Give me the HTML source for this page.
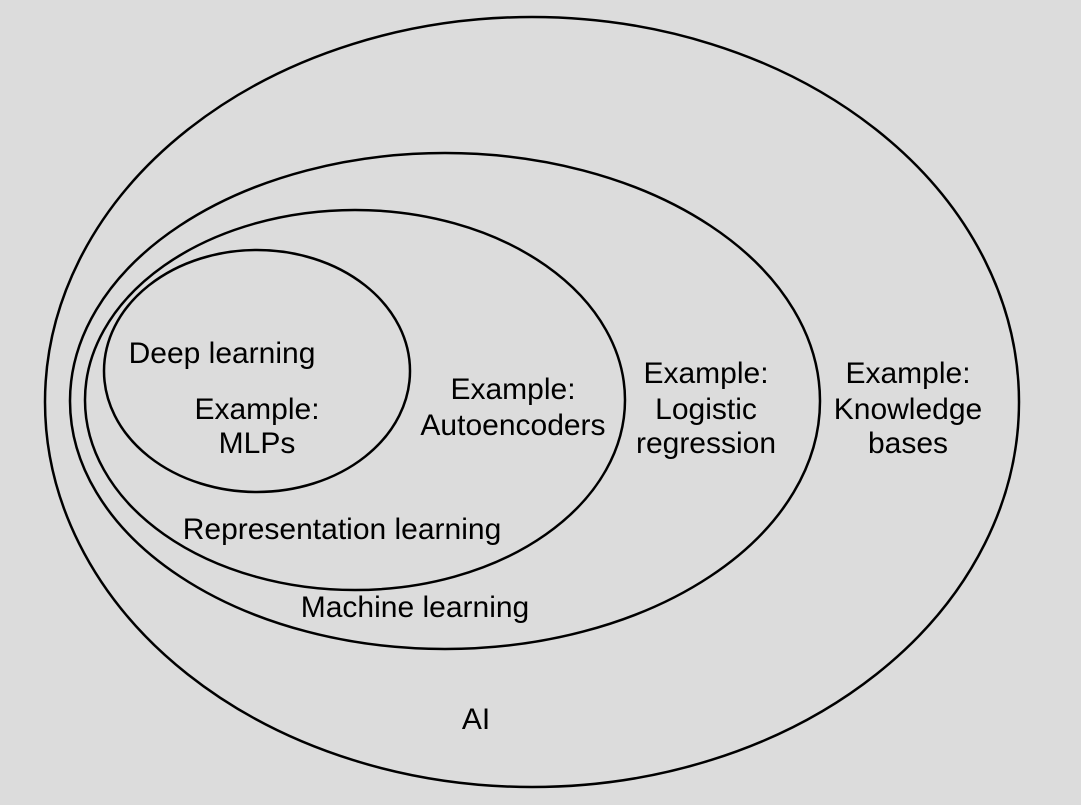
<!DOCTYPE html>
<html><head><meta charset="utf-8"><style>
html,body{margin:0;padding:0;background:#dcdcdc;}
svg{display:block;}
text{font-family:"Liberation Sans",Arial,sans-serif;font-size:30px;fill:#000;text-anchor:middle;}
</style></head><body>
<svg width="1081" height="805" viewBox="0 0 1081 805" xmlns="http://www.w3.org/2000/svg">
<rect width="1081" height="805" fill="#dcdcdc"/>
<g fill="none" stroke="#000" stroke-width="2.5">
<ellipse cx="532" cy="402" rx="487" ry="385"/>
<ellipse cx="445" cy="401" rx="375" ry="248"/>
<ellipse cx="355" cy="400" rx="270" ry="190"/>
<ellipse cx="257" cy="371" rx="153" ry="121"/>
</g>
<text x="222" y="363">Deep learning</text>
<text x="257" y="419">Example:</text>
<text x="257" y="453">MLPs</text>
<text x="513" y="399">Example:</text>
<text x="513" y="435">Autoencoders</text>
<text x="342" y="539">Representation learning</text>
<text x="706" y="383">Example:</text>
<text x="706" y="419">Logistic</text>
<text x="706" y="453">regression</text>
<text x="415" y="617">Machine learning</text>
<text x="908" y="383">Example:</text>
<text x="908" y="419">Knowledge</text>
<text x="908" y="453">bases</text>
<text x="476" y="729">AI</text>
</svg>
</body></html>
